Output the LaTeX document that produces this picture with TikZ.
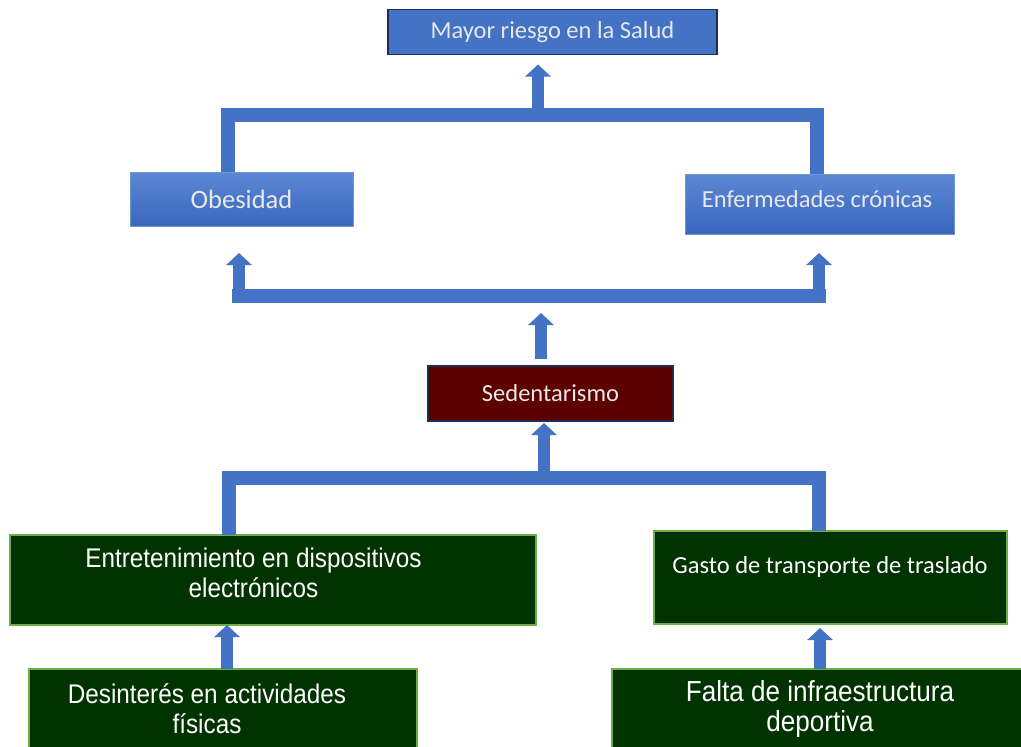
\documentclass[tikz,border=0pt]{standalone}
\usepackage{fontspec}
\newfontfamily\calfont{Carlito}
\newfontfamily\arifont[FakeStretch=0.9]{Liberation Sans}
\usetikzlibrary{arrows.meta}
\definecolor{conn}{RGB}{68,114,196}
\definecolor{navy}{RGB}{31,45,80}
\definecolor{topblue}{RGB}{68,114,196}
\definecolor{gradtop}{RGB}{92,135,212}
\definecolor{gradbot}{RGB}{58,103,190}
\definecolor{gradedge}{RGB}{110,150,215}
\definecolor{maroon}{RGB}{92,0,0}
\definecolor{dgreen}{RGB}{0,51,0}
\definecolor{lgreen}{RGB}{112,173,71}
\definecolor{txtgray}{RGB}{232,232,232}
\tikzset{
  box/.style={inner sep=0pt, outer sep=0pt, font=\calfont\fontsize{24.5}{29}\selectfont},
  bluebox/.style={box, fill=topblue, draw=navy, line width=1.2pt, text=txtgray},
  gradbox/.style={box, top color=gradtop, bottom color=gradbot, draw=gradedge, line width=0.8pt, text=txtgray},
  sedbox/.style={box, fill=maroon, draw=navy, line width=1.2pt, text=txtgray},
  greenbox/.style={inner sep=0pt, outer sep=0pt, fill=dgreen, draw=lgreen, line width=1.5pt},
  lbl/.style={text=white, align=center},
  arifnt/.style={font=\arifont\fontsize{27}{30}\selectfont},
  calfnt/.style={font=\calfont\fontsize{24.5}{29}\selectfont},
  bar/.style={line width=14pt, draw=conn},
  arr/.style={line width=12pt, draw=conn, -{Triangle[width=25pt,length=12pt]}}
}
\begin{document}
\begin{tikzpicture}[x=1pt,y=-1pt]
\useasboundingbox (0,0) rectangle (1021,747);
\fill[white] (0,0) rectangle (1021,747);
% nodes
\node[bluebox, minimum width=329pt, minimum height=45pt] (top) at (552.5,32) {Mayor riesgo en la Salud};
\node[gradbox, minimum width=223pt, minimum height=54pt, font=\calfont\fontsize{26.5}{30}\selectfont] (obes) at (241.5,199) {Obesidad};
\node[gradbox, minimum width=269pt, minimum height=60pt] (enf) at (820,204) {};
\node[lbl, calfnt, text=txtgray] (enft) at (817,199) {Enfermedades crónicas};
\node[sedbox, minimum width=245pt, minimum height=55pt] (sed) at (550.5,393.5) {Sedentarismo};
\node[greenbox, minimum width=526pt, minimum height=90pt] (ent) at (273,580) {};
\node[lbl, arifnt] (entt) at (253.5,573) {Entretenimiento en dispositivos\\electrónicos};
\node[greenbox, minimum width=353pt, minimum height=93pt] (gasto) at (830.5,577.5) {};
\node[lbl, calfnt] (gastot) at (830,567) {Gasto de transporte de traslado};
\node[greenbox, minimum width=388pt, minimum height=82pt] (des) at (223,710) {};
\node[lbl, arifnt] (dest) at (207,709) {Desinterés en actividades\\físicas};
\node[greenbox, minimum width=416pt, minimum height=82pt] (falta) at (820,710) {};
\node[lbl, font=\arifont\fontsize{29}{30}\selectfont] (faltat) at (820,709) {Falta de infraestructura\\deportiva};
% upper bracket
\coordinate (u1) at (228,115);
\coordinate (u2) at (817,115);
\coordinate (u3) at (538,115);
\draw[bar] (obes.north -| u1) -- (u1) -- (u2) -- (enf.north -| u2);
\draw[arr, shorten >=10pt] (u3) -- (top.south -| u3);
% middle bracket
\coordinate (m1) at (239,295.5);
\coordinate (m2) at (819,295.5);
\coordinate (m3) at (541,295.5);
\draw[bar, line cap=rect] (m1) -- (m2);
\draw[arr, shorten >=27pt] (m1) -- (obes.south -| m1);
\draw[arr, shorten >=19pt] (m2) -- (enf.south -| m2);
\draw[arr, shorten <=7pt, shorten >=17.5pt] (sed.north -| m3) -- (m3);
% lower bracket
\coordinate (l1) at (229,477.5);
\coordinate (l2) at (819,477.5);
\coordinate (l3) at (544,477.5);
\draw[bar] (ent.north -| l1) -- (l1) -- (l2) -- (gasto.north -| l2);
\draw[arr, shorten >=2pt] (l3) -- (sed.south -| l3);
% bottom arrows
\coordinate (b1) at (227,650);
\coordinate (b2) at (820,650);
\draw[arr] (des.north -| b1) -- (ent.south -| b1);
\draw[arr, shorten >=4pt] (falta.north -| b2) -- (gasto.south -| b2);
\end{tikzpicture}
\end{document}
